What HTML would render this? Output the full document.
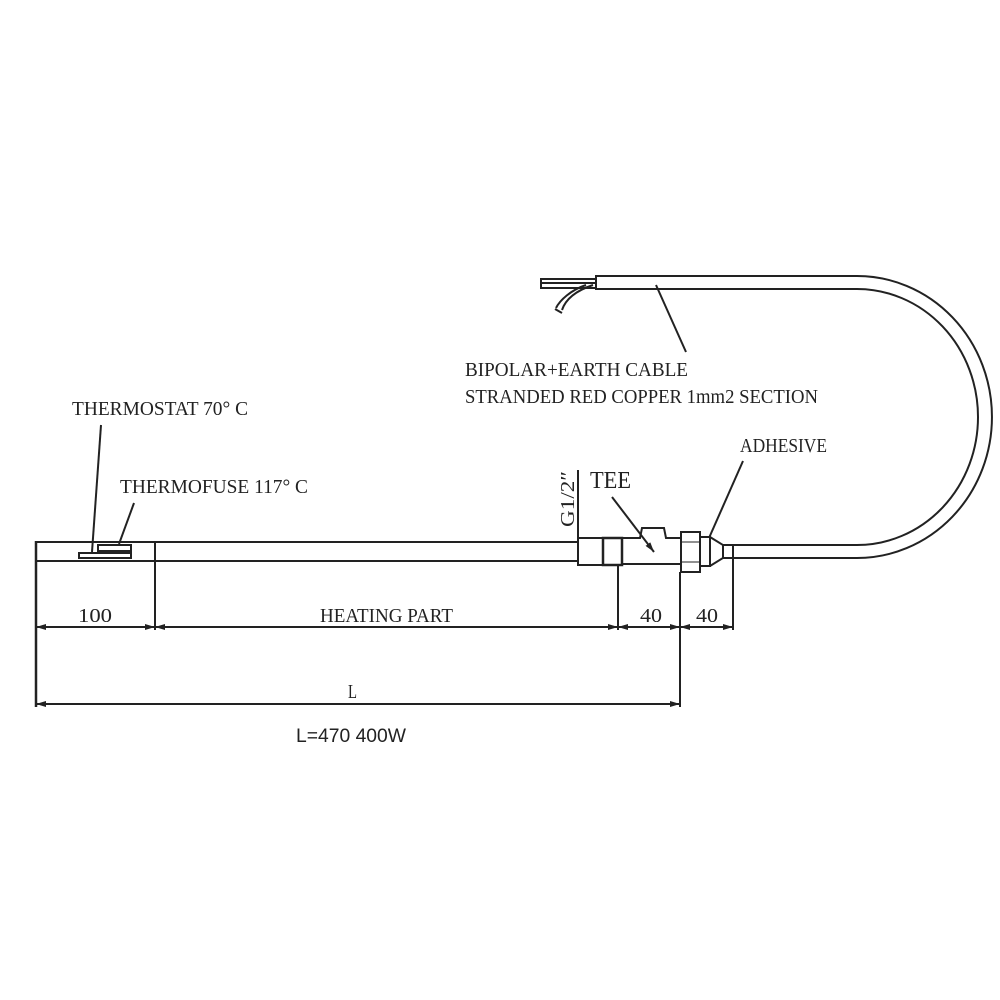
<!DOCTYPE html>
<html><head><meta charset="utf-8"><style>
html,body{margin:0;padding:0;background:#fff;}
svg{display:block}
.t{font-family:"Liberation Serif",serif;fill:#222;}
</style></head><body>
<svg width="1000" height="1000" viewBox="0 0 1000 1000" xmlns="http://www.w3.org/2000/svg">
<defs>
<marker id="a" markerWidth="10" markerHeight="6" refX="10" refY="3" orient="auto" markerUnits="userSpaceOnUse"><path d="M0,0 L10,3 L0,6 z" fill="#222"/></marker>
<marker id="b" markerWidth="10" markerHeight="6" refX="0" refY="3" orient="auto" markerUnits="userSpaceOnUse"><path d="M10,0 L0,3 L10,6 z" fill="#222"/></marker>
</defs>
<g stroke="#222" stroke-width="2" fill="none">
<line x1="36" y1="542" x2="578" y2="542"/>
<line x1="36" y1="561" x2="578" y2="561"/>
<line x1="155" y1="542" x2="155" y2="630"/>
<line x1="36" y1="541" x2="36" y2="707" stroke-width="2.5"/>
<rect x="98" y="545" width="33" height="6" stroke-width="2"/>
<rect x="79" y="553" width="52" height="5" stroke-width="2"/>
<line x1="578" y1="470" x2="578" y2="566"/>
<rect x="578" y="538" width="25" height="27"/>
<rect x="603" y="538" width="19" height="27" stroke-width="2.5"/>
<path d="M622,538 L640,538 L642,528 L664,528 L666,538 L681,538"/>
<line x1="622" y1="564" x2="681" y2="564"/>
<line x1="618" y1="565" x2="618" y2="630"/>
<rect x="681" y="532" width="19" height="40"/>
<line x1="681" y1="542" x2="700" y2="542" stroke-width="1"/>
<line x1="681" y1="562" x2="700" y2="562" stroke-width="1"/>
<rect x="700" y="537" width="10" height="29"/>
<path d="M710,537 L723,545 L723,558 L710,566"/>
<rect x="723" y="545" width="10" height="13"/>
<line x1="680" y1="572" x2="680" y2="707"/>
<line x1="733" y1="558" x2="733" y2="630"/>
<path d="M733,558 L857,558 A135,141 0 0 0 857,276 L596,276"/>
<path d="M733,545 L857,545 A121,128 0 0 0 857,289 L596,289"/>
<line x1="596" y1="275" x2="596" y2="290"/>
<path d="M596,279 L541,279 M596,283 L541,283 M596,288 L541,288 M541,278 L541,289" stroke-width="2"/>
<path d="M593,285 C578,290 566,298 562,310 M586,285 C571,290 560,300 556,308 M555,309 L562,313" stroke-width="2"/>
<line x1="36" y1="627" x2="155" y2="627" marker-start="url(#b)" marker-end="url(#a)"/>
<line x1="155" y1="627" x2="618" y2="627" marker-start="url(#b)" marker-end="url(#a)"/>
<line x1="618" y1="627" x2="680" y2="627" marker-start="url(#b)" marker-end="url(#a)"/>
<line x1="680" y1="627" x2="733" y2="627" marker-start="url(#b)" marker-end="url(#a)"/>
<line x1="36" y1="704" x2="680" y2="704" marker-start="url(#b)" marker-end="url(#a)"/>
<line x1="101" y1="425" x2="92" y2="552"/>
<line x1="134" y1="503" x2="119" y2="544"/>
<line x1="656" y1="285" x2="686" y2="352"/>
<line x1="743" y1="461" x2="709" y2="538"/>
<line x1="612" y1="497" x2="654" y2="552" marker-end="url(#a)"/>
</g>
<g class="t" font-size="20">
<text x="72" y="415" textLength="176" lengthAdjust="spacingAndGlyphs">THERMOSTAT 70° C</text>
<text x="120" y="493" textLength="188" lengthAdjust="spacingAndGlyphs">THERMOFUSE 117° C</text>
<text x="465" y="376" textLength="223" lengthAdjust="spacingAndGlyphs">BIPOLAR+EARTH CABLE</text>
<text x="465" y="403" textLength="353" lengthAdjust="spacingAndGlyphs">STRANDED RED COPPER 1mm2 SECTION</text>
<text x="740" y="452" textLength="87" lengthAdjust="spacingAndGlyphs">ADHESIVE</text>
<text x="590" y="488" font-size="24" textLength="41" lengthAdjust="spacingAndGlyphs">TEE</text>
<text transform="translate(574,527) rotate(-90)" textLength="56" lengthAdjust="spacingAndGlyphs">G1/2″</text>
<text x="78" y="622" textLength="34" lengthAdjust="spacingAndGlyphs">100</text>
<text x="320" y="622" textLength="133" lengthAdjust="spacingAndGlyphs">HEATING PART</text>
<text x="640" y="622" textLength="22" lengthAdjust="spacingAndGlyphs">40</text>
<text x="696" y="622" textLength="22" lengthAdjust="spacingAndGlyphs">40</text>
<text x="348" y="698" textLength="9" lengthAdjust="spacingAndGlyphs">L</text>
</g>
<text x="296" y="742" font-family="Liberation Sans, sans-serif" font-size="19" fill="#222" textLength="110" lengthAdjust="spacingAndGlyphs">L=470 400W</text>
</svg>
</body></html>
